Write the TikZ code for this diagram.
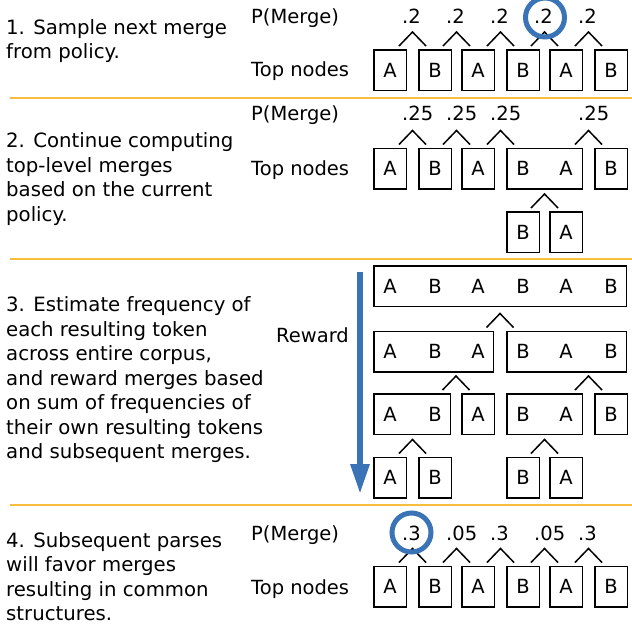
\documentclass[tikz,border=0pt]{standalone}
\usepackage{fontspec}
\setmainfont{DejaVu Sans}
\usetikzlibrary{calc,arrows.meta}
\definecolor{sepc}{HTML}{F6BE3A}
\definecolor{ringc}{HTML}{3A74B6}
\newcommand\mergemark[2]{%
  \coordinate (mm) at ($(#1.north east)!.5!(#2.north west)$);
  \draw[caret] ($(mm)+(-13.5,-3)$) -- ($(mm)+(0,-17)$) -- ($(mm)+(13.5,-3)$);}
\begin{document}
\begin{tikzpicture}[x=1pt,y=-1pt,
  font=\fontsize{19.5}{24.5}\selectfont,
  tok/.style={draw, line width=1.5pt, minimum width=32.5pt, minimum height=40.5pt, inner sep=0pt},
  lett/.style={inner sep=0pt},
  caret/.style={line width=1.5pt},
  desc/.style={anchor=base west, align=left, inner sep=0pt, font=\fontsize{19.7}{24.5}\selectfont},
  plab/.style={anchor=base west, inner sep=0pt},
  sepline/.style={draw=sepc, line width=2pt},
  ring/.style={draw=ringc, line width=5pt, circle, minimum size=39pt, inner sep=0pt}]
\useasboundingbox (0,0) rectangle (632,624);

% separators
\draw[sepline] (10,98) -- (632,98);
\draw[sepline] (10,259) -- (632,259);
\draw[sepline] (10,505) -- (632,505);

% descriptions (anchored at the baseline of the last line)
\node[desc] (t1) at (6,58.8) {1. Sample next merge\\from policy.};
\node[desc] (t2) at (6,221.2) {2. Continue computing\\top-level merges\\based on the current\\policy.};
\node[desc] (t3) at (6,458.7) {3. Estimate frequency of\\each resulting token\\across entire corpus,\\and reward merges based\\on sum of frequencies of\\their own resulting tokens\\and subsequent merges.};
\node[desc] (t4) at (6,620.7) {4. Subsequent parses\\will favor merges\\resulting in common\\structures.};

% ---------- section 1
\node[plab] (pm1) at (251,23.3) {P(Merge)};
\node[plab] (tn1) at (251,76.7) {Top nodes};
\node[tok] (a1) at (390,70) {A};
\node[tok] (a2) at (435,70) {B};
\node[tok] (a3) at (478,70) {A};
\node[tok] (a4) at (523,70) {B};
\node[tok] (a5) at (566,70) {A};
\node[tok] (a6) at (611,70) {B};
\mergemark{a1}{a2}\node[plab] (la1) at ([xshift=-10.5pt]mm |- pm1.base) {.2};
\mergemark{a2}{a3}\node[plab] (la2) at ([xshift=-10.5pt]mm |- pm1.base) {.2};
\mergemark{a3}{a4}\node[plab] (la3) at ([xshift=-10.5pt]mm |- pm1.base) {.2};
\mergemark{a4}{a5}\node[plab] (la4) at ([xshift=-10.5pt]mm |- pm1.base) {.2};
\mergemark{a5}{a6}\node[plab] (la5) at ([xshift=-10.5pt]mm |- pm1.base) {.2};
\node[ring] (r1) at (545,17.5) {};

% ---------- section 2
\node[plab] (pm2) at (251,120) {P(Merge)};
\node[plab] (tn2) at (251,175) {Top nodes};
\node[tok] (b1) at (390,168.5) {A};
\node[tok] (b2) at (435,168.5) {B};
\node[tok] (b3) at (478,168.5) {A};
\node[tok, minimum width=75.5pt] (b4) at (544.5,168.5) {};
\node[lett] (b4x) at (523,168.5) {B};
\node[lett] (b4y) at (566,168.5) {A};
\node[tok] (b5) at (611,168.5) {B};
\node[tok] (c1) at (523,232) {B};
\node[tok] (c2) at (566,232) {A};
\mergemark{b1}{b2}\node[plab] (lb1) at ([xshift=-10.5pt]mm |- pm2.base) {.25};
\mergemark{b2}{b3}\node[plab] (lb2) at ([xshift=-10.5pt]mm |- pm2.base) {.25};
\mergemark{b3}{b4}\node[plab] (lb3) at ([xshift=-10.5pt]mm |- pm2.base) {.25};
\mergemark{b4}{b5}\node[plab] (lb4) at ([xshift=-10.5pt]mm |- pm2.base) {.25};
\mergemark{c1}{c2}

% ---------- section 3
\coordinate (rtop) at (360,272);
\coordinate (rbot) at (360,494);
\draw[draw=ringc, line width=6pt, -{Triangle[width=18pt,length=30pt]}] (rtop) -- (rbot);
\node[plab] (rw) at (276,342) {Reward};
% row 1
\node[tok, minimum width=252.5pt] (d1) at (500,286) {};
\foreach \x/\l [count=\i] in {390/A,435/B,478/A,523/B,566/A,611/B}
  \node[lett] (d1l\i) at (\x,286) {\l};
% row 2
\node[tok, minimum width=119.5pt] (e1) at (433.5,351.5) {};
\node[tok, minimum width=119.5pt] (e2) at (566.5,351.5) {};
\foreach \x/\l [count=\i] in {390/A,435/B,478/A,523/B,566/A,611/B}
  \node[lett] (e1l\i) at (\x,351.5) {\l};
% row 3
\node[tok, minimum width=76.5pt] (f1) at (412,414) {};
\node[lett] (f1x) at (390,414) {A};
\node[lett] (f1y) at (435,414) {B};
\node[tok] (f2) at (478,414) {A};
\node[tok, minimum width=75.5pt] (f3) at (544.5,414) {};
\node[lett] (f3x) at (523,414) {B};
\node[lett] (f3y) at (566,414) {A};
\node[tok] (f4) at (611,414) {B};
% row 4
\node[tok] (g1) at (390,477.5) {A};
\node[tok] (g2) at (435,477.5) {B};
\node[tok] (g3) at (523,477.5) {B};
\node[tok] (g4) at (566,477.5) {A};
\mergemark{e1}{e2}
\mergemark{f1}{f2}
\mergemark{f3}{f4}
\mergemark{g1}{g2}
\mergemark{g3}{g4}

% ---------- section 4
\node[plab] (pm4) at (251,540) {P(Merge)};
\node[plab] (tn4) at (251,594) {Top nodes};
\node[tok] (h1) at (390,586.5) {A};
\node[tok] (h2) at (435,586.5) {B};
\node[tok] (h3) at (478,586.5) {A};
\node[tok] (h4) at (523,586.5) {B};
\node[tok] (h5) at (566,586.5) {A};
\node[tok] (h6) at (611,586.5) {B};
\mergemark{h1}{h2}\node[plab] (lh1) at ([xshift=-10.5pt]mm |- pm4.base) {.3};
\mergemark{h2}{h3}\node[plab] (lh2) at ([xshift=-10.5pt]mm |- pm4.base) {.05};
\mergemark{h3}{h4}\node[plab] (lh3) at ([xshift=-10.5pt]mm |- pm4.base) {.3};
\mergemark{h4}{h5}\node[plab] (lh4) at ([xshift=-10.5pt]mm |- pm4.base) {.05};
\mergemark{h5}{h6}\node[plab] (lh5) at ([xshift=-10.5pt]mm |- pm4.base) {.3};
\node[ring] (r4) at (411.5,532.5) {};
\end{tikzpicture}
\end{document}
